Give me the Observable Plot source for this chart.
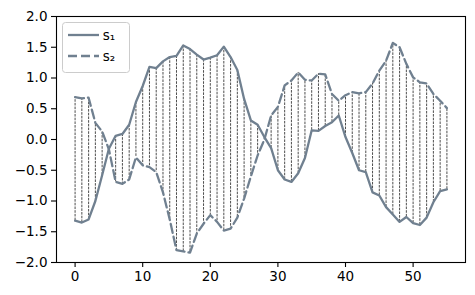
<!DOCTYPE html>
<html><head><meta charset="utf-8">
<script src="https://cdn.jsdelivr.net/npm/d3@7"></script>
<script src="https://cdn.jsdelivr.net/npm/@observablehq/plot@0.6"></script>
<style>body{margin:0;background:#fff}</style>
</head><body><div id="chart"></div>
<script>
const s1 = [-1.32,-1.35,-1.30,-1.00,-0.58,-0.15,0.06,0.09,0.24,0.61,
  0.87,1.18,1.16,1.27,1.34,1.36,1.53,1.47,1.38,1.30,
  1.33,1.37,1.51,1.34,1.13,0.66,0.31,0.24,0.04,-0.14,
  -0.50,-0.65,-0.69,-0.55,-0.30,0.15,0.14,0.22,0.28,0.39,
  0.04,-0.22,-0.50,-0.53,-0.86,-0.91,-1.10,-1.22,-1.34,-1.26,
  -1.36,-1.39,-1.27,-1.02,-0.84,-0.81];
const s2 = [0.69,0.67,0.68,0.27,0.13,-0.16,-0.69,-0.72,-0.65,-0.29,
  -0.42,-0.45,-0.53,-0.86,-1.30,-1.80,-1.82,-1.84,-1.53,-1.37,
  -1.23,-1.34,-1.48,-1.45,-1.27,-0.96,-0.60,-0.26,0.00,0.39,
  0.53,0.88,0.96,1.09,0.97,0.96,1.07,1.06,0.74,0.63,
  0.72,0.77,0.75,0.77,0.91,1.12,1.28,1.57,1.50,1.23,
  1.01,0.93,0.91,0.74,0.63,0.51];
const xTicks = [0,10,20,30,40,50];
const yTicks = [-2.0,-1.5,-1.0,-0.5,0.0,0.5,1.0,1.5,2.0];
const seriesNames = ["s₁","s₂"];

const data = s1.map((v,i)=>({x:i, s1:v, s2:s2[i]}));
const color = "#708090";

const chart = Plot.plot({
  width: 475, height: 295,
  marginLeft: 56, marginRight: 10, marginTop: 16, marginBottom: 33,
  style: {fontFamily: "DejaVu Sans", fontSize: "13.5px", color: "black", background: "white"},
  x: {domain: [-2.75, 57.75]},
  y: {domain: [-2, 2]},
  marks: [
    Plot.ruleX(data, {x:"x", y1:"s1", y2:"s2", stroke:"black", strokeWidth:0.7, strokeDasharray:"2.6,1.1"}),
    Plot.line(data, {x:"x", y:"s1", stroke:color, strokeWidth:2.3}),
    Plot.line(data, {x:"x", y:"s2", stroke:color, strokeWidth:2.3, strokeDasharray:"9,4"}),
    Plot.frame({stroke:"black", strokeWidth:1.1}),
    Plot.axisX({ticks: xTicks, tickSize: 5, tickPadding: 4, label: null, tickFormat: d3.format("d"), stroke:"black", strokeWidth:1.1}),
    Plot.axisY({ticks: yTicks, tickSize: 5, tickPadding: 4, label: null, tickFormat: d3.format(".1f"), stroke:"black", strokeWidth:1.1})
  ]
});
document.getElementById("chart").appendChild(chart);

// legend
const svg = d3.select(chart);
const g = svg.append("g");
g.append("rect").attr("x",62.5).attr("y",22.5).attr("width",67).attr("height",50)
  .attr("rx",3).attr("fill","white").attr("fill-opacity",0.8).attr("stroke","#cccccc").attr("stroke-width",1);
seriesNames.forEach((name,i)=>{
  const y = 35 + i*21;
  g.append("line").attr("x1",68).attr("x2",99).attr("y1",y).attr("y2",y)
    .attr("stroke",color).attr("stroke-width",2.3).attr("stroke-dasharray", i===1 ? "9,4" : null);
  g.append("text").attr("x",109).attr("y",y+4.5).attr("font-family","DejaVu Sans").attr("font-size","13.5px")
    .attr("fill","black").text(name);
});
</script></body></html>
